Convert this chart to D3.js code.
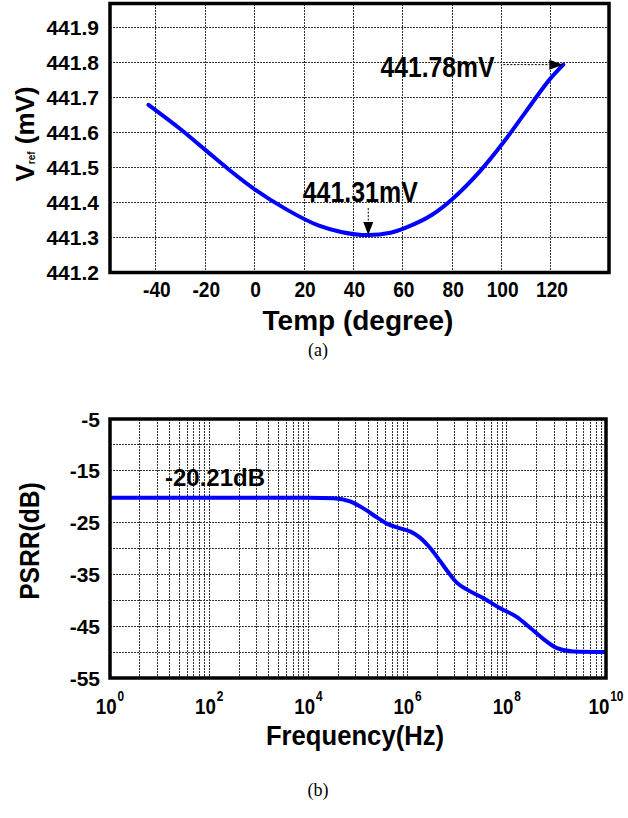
<!DOCTYPE html>
<html>
<head>
<meta charset="utf-8">
<style>
body {
  margin: 0;
  background: white;
}

svg {
  display: block;
}

.grid line {
  stroke: #333;
  stroke-width: 1;
  stroke-dasharray: 2,1;
  shape-rendering: crispEdges;
}

text {
  font-family: "Liberation Sans", Arial, sans-serif;
  font-weight: bold;
  fill: black;
}

.caption {
  font-family: "Liberation Serif", "Times New Roman", serif;
  font-weight: normal;
  font-size: 18px;
}
</style>
</head>
<body>
<script src="https://cdnjs.cloudflare.com/ajax/libs/d3/7.8.5/d3.min.js"></script>
<script>
// (a) Vref against temperature
var temps = [-43, -30, -20, -10, 0, 13, 26, 35, 46, 55, 61, 72, 80, 91, 101, 110, 120, 125]
var vref = [441.680, 441.610, 441.551, 441.492, 441.438, 441.380, 441.334, 441.316, 441.307,
            441.314, 441.328, 441.366, 441.410, 441.488, 441.575, 441.662, 441.757, 441.795]
var tempTicks = [-40, -20, 0, 20, 40, 60, 80, 100, 120]
var vrefTicks = [441.2, 441.3, 441.4, 441.5, 441.6, 441.7, 441.8, 441.9]
var vrefMaxLabel = "441.78mV"
var vrefMinLabel = "441.31mV"

// (b) PSRR against frequency
var freqs = [1, 1e2, 1e4, 3.2e4, 6.9e4, 1.26e5, 2.4e5, 3.8e5, 7.1e5, 1.12e6, 1.78e6, 2.8e6, 4.5e6,
             6.6e6, 9.8e6, 1.55e7, 3.4e7, 7.2e7, 1.58e8, 2.95e8, 5.5e8, 1e9, 2.2e9, 1e10]
var psrr = [-20.21, -20.21, -20.21, -20.3, -20.9, -22.2, -24.0, -25.2, -26.1, -26.7, -27.9, -29.8, -32.4,
            -34.6, -36.6, -37.9, -39.6, -41.5, -43.2, -45.3, -47.5, -49.2, -49.9, -50.0]
var psrrTicks = [-5, -15, -25, -35, -45, -55]
var psrrGrid = [-10, -15, -20, -25, -30, -35, -40, -45, -50]
var freqTicks = [1, 1e2, 1e4, 1e6, 1e8, 1e10]
var freqExp = ["0", "2", "4", "6", "8", "10"]
var psrrLabel = "-20.21dB"

var width = 628,
    height = 818;

var svg = d3.select("body")
  .append("svg")
  .attr("width", width)
  .attr("height", height)

// narrow the Arial-like font so it looks like Arial Narrow
function squeeze(sel, sx) {
  sel.each(function() {
    var t = d3.select(this)
    var tr = t.attr("transform") || ("translate(" + (+t.attr("x") || 0) + "," + (+t.attr("y") || 0) + ")")
    t.attr("x", null).attr("y", null).attr("transform", tr + " scale(" + sx + ",1)")
  })
}

// ---------- chart (a) ----------
var x1 = d3.scaleLinear().domain([-58.6, 143.5]).range([110, 609])
var y1 = d3.scaleLinear().domain([441.2, 441.97]).range([272.5, 3.5])

var g1 = svg.append("g")

var grid1 = g1.append("g").attr("class", "grid")
grid1.selectAll(".v")
  .data(tempTicks)
  .enter().append("line")
  .attr("x1", function(d) { return x1(d) })
  .attr("x2", function(d) { return x1(d) })
  .attr("y1", y1.range()[1])
  .attr("y2", y1.range()[0])
grid1.selectAll(".h")
  .data(vrefTicks.slice(1))
  .enter().append("line")
  .attr("x1", x1.range()[0])
  .attr("x2", x1.range()[1])
  .attr("y1", function(d) { return y1(d) })
  .attr("y2", function(d) { return y1(d) })

g1.selectAll(".ytick")
  .data(vrefTicks)
  .enter().append("text")
  .attr("x", x1.range()[0] - 11)
  .attr("y", function(d) { return y1(d) + 7.5 })
  .attr("text-anchor", "end")
  .style("font-size", "21px")
  .text(function(d) { return d.toFixed(1) })

var xt1 = g1.selectAll(".xtick")
  .data(tempTicks)
  .enter().append("text")
  .attr("x", function(d) { return x1(d) + 1 })
  .attr("y", 297)
  .attr("text-anchor", "middle")
  .style("font-size", "22px")
  .text(function(d) { return d })
squeeze(xt1, 0.87)

var line1 = d3.line()
  .x(function(d, i) { return x1(temps[i]) })
  .y(function(d) { return y1(d) })
  .curve(d3.curveMonotoneX)

g1.append("path")
  .datum(vref)
  .attr("d", line1)
  .attr("fill", "none")
  .attr("stroke", "#0000ff")
  .attr("stroke-width", 4)
  .attr("stroke-linecap", "round")

g1.append("rect")
  .attr("x", x1.range()[0])
  .attr("y", y1.range()[1])
  .attr("width", x1.range()[1] - x1.range()[0])
  .attr("height", y1.range()[0] - y1.range()[1])
  .attr("fill", "none")
  .attr("stroke", "black")
  .attr("stroke-width", 3.5)

// y title with subscript
var ytitle = g1.append("text")
  .attr("transform", "translate(34,134) rotate(-90)")
  .attr("text-anchor", "middle")
  .style("font-size", "26px")
ytitle.append("tspan").text("V")
ytitle.append("tspan").style("font-size", "10px").attr("dy", 1).text("ref")
ytitle.append("tspan").attr("dy", -1).text(" (mV)")

g1.append("text")
  .attr("x", 358)
  .attr("y", 330)
  .attr("text-anchor", "middle")
  .style("font-size", "28px")
  .text("Temp (degree)")

g1.append("text")
  .attr("class", "caption")
  .attr("x", 318)
  .attr("y", 356)
  .attr("text-anchor", "middle")
  .text("(a)")

// annotations
var hiX = x1(temps[temps.length - 1]), hiY = y1(vref[vref.length - 1])
var iMin = vref.indexOf(d3.min(vref))
var loX = x1(temps[iMin]), loY = y1(vref[iMin])

g1.append("line")
  .attr("x1", hiX - 60).attr("x2", hiX - 14)
  .attr("y1", hiY).attr("y2", hiY)
  .attr("stroke", "black").attr("stroke-dasharray", "2,1.5")
g1.append("path")
  .attr("d", "M" + hiX + "," + hiY + "L" + (hiX - 14) + "," + (hiY - 5) + "L" + (hiX - 14) + "," + (hiY + 5) + "Z")
  .attr("fill", "black")
var hiText = g1.append("text")
  .attr("x", hiX - 69)
  .attr("y", hiY + 12)
  .attr("text-anchor", "end")
  .style("font-size", "29px")
  .text(vrefMaxLabel)
squeeze(hiText, 0.85)

g1.append("line")
  .attr("x1", loX).attr("x2", loX)
  .attr("y1", loY - 27).attr("y2", loY - 13)
  .attr("stroke", "black").attr("stroke-dasharray", "2,1.5")
g1.append("path")
  .attr("d", "M" + loX + "," + loY + "L" + (loX - 5) + "," + (loY - 13) + "L" + (loX + 5) + "," + (loY - 13) + "Z")
  .attr("fill", "black")
var loText = g1.append("text")
  .attr("x", loX - 8)
  .attr("y", loY - 33)
  .attr("text-anchor", "middle")
  .style("font-size", "29px")
  .text(vrefMinLabel)
squeeze(loText, 0.86)

// ---------- chart (b) ----------
var x2 = d3.scaleLog().domain([1, 1e10]).range([110, 606])
var y2 = d3.scaleLinear().domain([-55, -5]).range([678, 419])

var g2 = svg.append("g")

var minorFreqs = []
freqTicks.slice(0, -1).forEach(function(m) {
  for (var k = 1; k <= 9; k++) minorFreqs.push(m * k * k)
})

var grid2 = g2.append("g").attr("class", "grid")
grid2.selectAll(".v")
  .data(minorFreqs)
  .enter().append("line")
  .attr("x1", function(d) { return x2(d) })
  .attr("x2", function(d) { return x2(d) })
  .attr("y1", y2.range()[1])
  .attr("y2", y2.range()[0])
grid2.selectAll(".h")
  .data(psrrGrid)
  .enter().append("line")
  .attr("x1", x2.range()[0])
  .attr("x2", x2.range()[1])
  .attr("y1", function(d) { return y2(d) })
  .attr("y2", function(d) { return y2(d) })

g2.selectAll(".ytick")
  .data(psrrTicks)
  .enter().append("text")
  .attr("x", x2.range()[0] - 10)
  .attr("y", function(d) { return y2(d) + 7.5 })
  .attr("text-anchor", "end")
  .style("font-size", "21px")
  .text(function(d) { return d })

var xt2 = g2.selectAll(".xtick")
  .data(freqTicks)
  .enter().append("text")
  .attr("x", function(d) { return x2(d) })
  .attr("y", 714)
  .attr("text-anchor", "middle")
  .style("font-size", "22px")
xt2.append("tspan").text("10")
xt2.append("tspan")
  .attr("dx", 1)
  .attr("dy", -13)
  .style("font-size", "14px")
  .text(function(d, i) { return freqExp[i] })
squeeze(xt2, 0.85)

var line2 = d3.line()
  .x(function(d, i) { return x2(freqs[i]) })
  .y(function(d) { return y2(d) })
  .curve(d3.curveMonotoneX)

g2.append("path")
  .datum(psrr)
  .attr("d", line2)
  .attr("fill", "none")
  .attr("stroke", "#0000ff")
  .attr("stroke-width", 4)

g2.append("rect")
  .attr("x", x2.range()[0])
  .attr("y", y2.range()[1])
  .attr("width", x2.range()[1] - x2.range()[0])
  .attr("height", y2.range()[0] - y2.range()[1])
  .attr("fill", "none")
  .attr("stroke", "black")
  .attr("stroke-width", 3.5)

var ytitle2 = g2.append("text")
  .attr("transform", "translate(39,541) rotate(-90)")
  .attr("text-anchor", "middle")
  .style("font-size", "28px")
  .text("PSRR(dB)")
squeeze(ytitle2, 0.88)

g2.append("text")
  .attr("x", 165)
  .attr("y", 486)
  .style("font-size", "24px")
  .text(psrrLabel)

var xtitle2 = g2.append("text")
  .attr("x", 355)
  .attr("y", 745)
  .attr("text-anchor", "middle")
  .style("font-size", "27px")
  .text("Frequency(Hz)")
squeeze(xtitle2, 0.95)

g2.append("text")
  .attr("class", "caption")
  .attr("x", 318)
  .attr("y", 796)
  .attr("text-anchor", "middle")
  .text("(b)")
</script>
</body>
</html>
